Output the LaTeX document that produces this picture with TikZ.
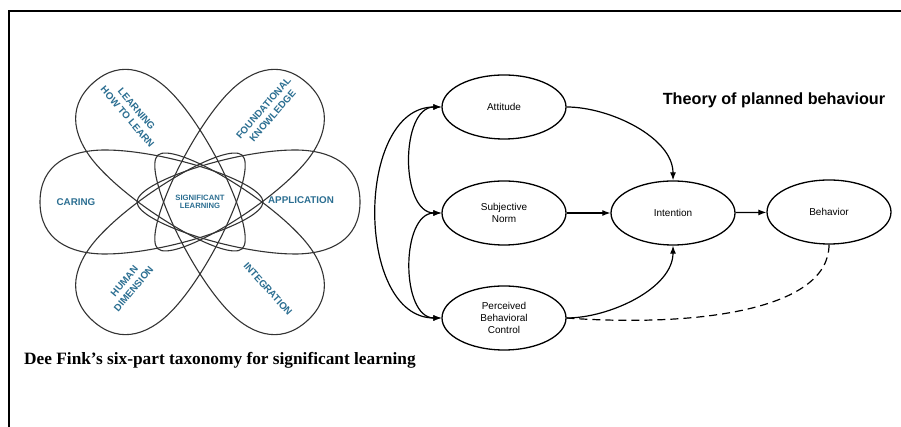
\documentclass[tikz,border=0pt]{standalone}
\usepackage{fontspec}
\setmainfont{Liberation Serif}
\newfontfamily\arial{Liberation Sans}
\usetikzlibrary{shapes.geometric,arrows.meta}
\definecolor{petalblue}{RGB}{43,110,145}

\begin{document}
\begin{tikzpicture}[x=1pt,y=1pt,>={Latex[length=8pt,width=6pt]}]
      \tikzstyle{state}=[ellipse,draw=black,line width=1.3pt,minimum width=124pt,minimum height=64pt,inner sep=0pt,align=center,font=\arial\fontsize{10}{12}\selectfont];
      \tikzstyle{petal}=[draw=black!80,line width=1.1pt];
      \tikzstyle{tag}=[text=petalblue,align=center,inner sep=0pt,font=\arial\bfseries\fontsize{9.8}{12}\selectfont];
      \tikzstyle{link}=[->,line width=1.2pt];

      \useasboundingbox (0,0) rectangle (901,427);
      \draw[line width=1.2pt] (9,0) -- (9,416) -- (901,416);

      % six petals of the flower
      \foreach \a in {0,48,132,180,228,312}
        \draw[petal,shift={(200,225)},rotate=\a] (160,0) .. controls (160,38) and (130,52) .. (95,52)
          .. controls (35,52) and (-63,20) .. (-63,0) .. controls (-63,-20) and (35,-52) .. (95,-52)
          .. controls (130,-52) and (160,-38) .. (160,0) -- cycle;

      \node[tag](caring) at (76,225) {CARING};
      \node[tag](application) at (301,227) {APPLICATION};
      \node[tag,font=\arial\bfseries\fontsize{7.7}{8.5}\selectfont](significant) at (200,225) {SIGNIFICANT\\LEARNING};
      \node[tag,rotate=-49.5](learning) at (132,314) {LEARNING\\HOW TO LEARN};
      \node[tag,rotate=49](foundational) at (268,315) {FOUNDATIONAL\\KNOWLEDGE};
      \node[tag,rotate=50](human) at (129,142) {HUMAN\\DIMENSION};
      \node[tag,rotate=-48](integration) at (268,138) {INTEGRATION};

      \node[anchor=base west,inner sep=0pt,font=\bfseries\fontsize{17.3}{20}\selectfont](caption) at (24,62) {Dee Fink’s six-part taxonomy for significant learning};

      % theory of planned behaviour
      \node[state](Attitude) at (504,320) {Attitude};
      \node[state](Norm) at (504,214) {Subjective\\Norm};
      \node[state](Control) at (504,109) {Perceived\\Behavioral\\Control};
      \node[state](Intention) at (673,214) {Intention};
      \node[state](Behavior) at (829,215) {Behavior};
      \node[font=\arial\bfseries\fontsize{16.2}{18}\selectfont](title) at (774,327) {Theory of planned behaviour};

      \draw[link] (Attitude.east) to[out=0,in=90,looseness=0.85] (Intention.north);
      \draw[link] (Norm) -- (Intention);
      \draw[link] (Intention) -- (Behavior);
      \draw[link] (Control.east) to[out=0,in=-90,looseness=0.85] (Intention.south);
      \draw[link,<->] (Attitude.west) to[out=180,in=180] (Norm.west);
      \draw[link,<->] (Norm.west) to[out=180,in=180] (Control.west);
      \draw[link,<->] (Attitude.west) to[out=180,in=180,looseness=1.05] (Control.west);
      \draw[line width=1.2pt,dash pattern=on 8pt off 5pt] (Behavior.south) .. controls +(0,-67) and +(124,-9) .. (Control.east);

    \end{tikzpicture}
\end{document}
